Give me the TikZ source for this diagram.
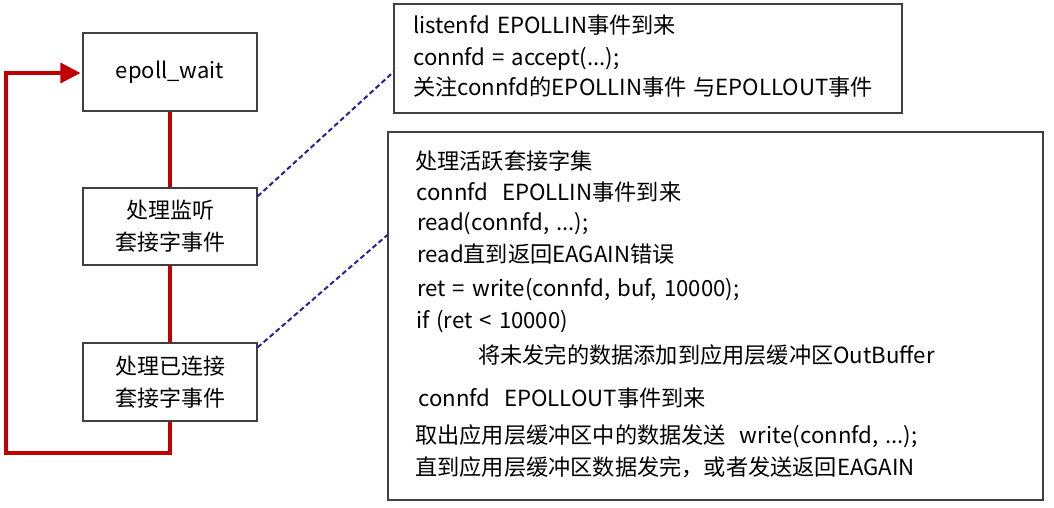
\documentclass[tikz,border=0pt]{standalone}
\usepackage{fontspec}
\setmainfont[WordSpace=1.4]{Noto Sans CJK SC}
\usetikzlibrary{arrows.meta}
\definecolor{loopred}{RGB}{192,0,0}
\definecolor{dashblue}{RGB}{36,36,150}
\definecolor{boxgray}{RGB}{64,64,64}
\tikzset{
  stepbox/.style={draw=boxgray, line width=1.2pt, minimum width=174pt, inner sep=0pt, align=center,
    font=\fontsize{22}{32}\selectfont},
  panel/.style={draw=boxgray, line width=1.2pt, inner sep=0pt},
  txt/.style={anchor=base west, inner sep=0pt, font=\fontsize{22.2}{26}\selectfont},
  loopline/.style={draw=loopred, line width=3.5pt},
  leader/.style={draw=dashblue, line width=2pt, dash pattern=on 5pt off 3pt}
}
\begin{document}
\begin{tikzpicture}[x=1pt,y=-1pt]
\useasboundingbox (0,0) rectangle (1054,507);
% left boxes
\node[stepbox, minimum height=78pt] (wait) at (170,72) {epoll\_wait};
\node[stepbox, minimum height=77pt] (listen) at (170,226.5) {处理监听\\套接字事件};
\node[stepbox, minimum height=78pt] (conn) at (170,382) {处理已连接\\套接字事件};
% right panels
\node[panel, minimum width=508pt, minimum height=109pt] (top) at (648,58.5) {};
\node[panel, minimum width=655pt, minimum height=368pt] (big) at (715.5,316) {};
% loop
\draw[loopline] (wait) -- (listen);
\draw[loopline] (listen) -- (conn);
\coordinate (c1) at (170,453);
\coordinate (c2) at (6,453);
\coordinate (c3) at (6,73);
\draw[loopline, -{Triangle[length=20pt,width=20pt]}, line join=miter]
  (conn.south) -- (c1) -- (c2) -- (c3) -- ([xshift=-2pt,yshift=-1pt]wait.west);
% leaders
\draw[leader] ([yshift=-9pt]listen.north east) -- ([yshift=-13.5pt]top.west);
\draw[leader] ([yshift=-5pt]conn.north east) -- ([yshift=81pt]big.west);
% top panel text
\node[txt] (t1) at (413,33) {listenfd EPOLLIN事件到来};
\node[txt] (t2) at (413,65) {connfd = accept(...);};
\node[txt] (t3) at (413,95) {关注connfd的EPOLLIN事件 与EPOLLOUT事件};
% big panel text
\node[txt] (b1) at (415,169) {处理活跃套接字集};
\node[txt] (b2) at (416,200) {connfd\ \ EPOLLIN事件到来};
\node[txt] (b3) at (417,230) {read(connfd, ...);};
\node[txt] (b4) at (417,262) {read直到返回EAGAIN错误};
\node[txt] (b5) at (417,296) {ret = write(connfd, buf, 10000);};
\node[txt] (b6) at (416,328) {if (ret < 10000)};
\node[txt] (b7) at (478,363) {将未发完的数据添加到应用层缓冲区OutBuffer};
\node[txt] (b8) at (418,406) {connfd\ \ EPOLLOUT事件到来};
\node[txt] (b9) at (415,443) {取出应用层缓冲区中的数据发送\ \ write(connfd, ...);};
\node[txt] (b10) at (415,475) {直到应用层缓冲区数据发完，或者发送返回EAGAIN};
\end{tikzpicture}
\end{document}
